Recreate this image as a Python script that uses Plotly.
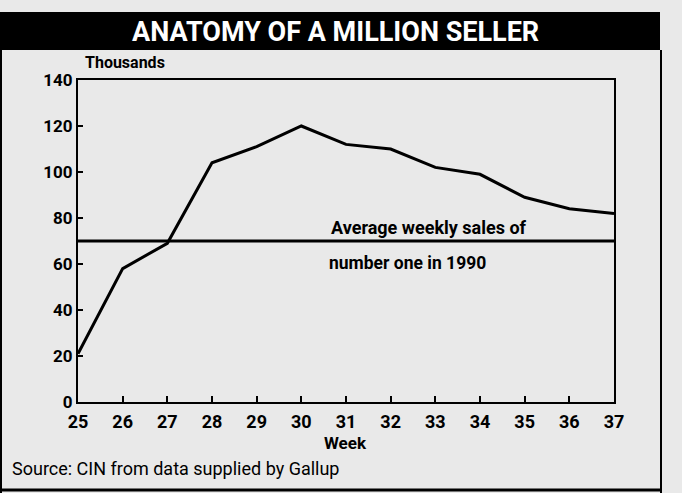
import plotly.graph_objects as go

weeks = [25, 26, 27, 28, 29, 30, 31, 32, 33, 34, 35, 36, 37]
sales_thousands = [21, 58, 69, 104, 111, 120, 112, 110, 102, 99, 89, 84, 82]
avg_weekly_sales_1990 = 70
y_ticks = [0, 20, 40, 60, 80, 100, 120, 140]

FONT = "Roboto, Liberation Sans, sans-serif"
BG = "#e9e9e9"
L, T, W, H = 78, 80, 536, 322  # plot area in px


def px(x):
    return (x - L) / W


def py(y):
    return (T + H - y) / H


fig = go.Figure()
fig.add_trace(go.Scatter(x=weeks, y=sales_thousands, mode="lines",
                         line=dict(color="black", width=3), showlegend=False,
                         hoverinfo="x+y"))
fig.add_shape(type="line", xref="paper", yref="y", x0=0, x1=1,
              y0=avg_weekly_sales_1990, y1=avg_weekly_sales_1990,
              line=dict(color="black", width=3))

fig.update_layout(
    width=682, height=493,
    margin=dict(l=L, r=682 - L - W, t=T, b=493 - T - H),
    paper_bgcolor=BG, plot_bgcolor=BG,
    font=dict(family=FONT, color="black"),
    xaxis=dict(range=[25, 37], tickmode="array", tickvals=weeks,
               ticktext=[str(w) for w in weeks], ticks="inside", ticklen=6,
               tickwidth=1.5, tickcolor="black", showline=True, linecolor="black",
               linewidth=2, mirror=True, showgrid=False, zeroline=False,
               ticklabelstandoff=2,
               tickfont=dict(size=18, family=FONT, weight="bold")),
    yaxis=dict(range=[0, 140], tickmode="array", tickvals=y_ticks,
               ticks="inside", ticklen=5, tickwidth=1.5, tickcolor="black",
               showline=True, linecolor="black", linewidth=2, mirror=True,
               showgrid=False, zeroline=False,
               tickfont=dict(size=17, family=FONT, weight="bold")),
)

# Title bar
fig.add_shape(type="rect", xref="paper", yref="paper", x0=px(0), x1=px(660),
              y0=py(50), y1=py(12), fillcolor="black",
              line=dict(width=0), layer="below")
fig.add_annotation(text="ANATOMY OF A MILLION SELLER", xref="paper", yref="paper",
                   x=px(335), y=py(32), showarrow=False,
                   font=dict(size=27, color="white", family=FONT, weight="bold"),
                   xanchor="center", yanchor="middle")
# Outer frame lines
fig.add_shape(type="line", xref="paper", yref="paper", x0=px(661), x1=px(661),
              y0=py(493), y1=py(50), line=dict(color="black", width=2))
fig.add_shape(type="line", xref="paper", yref="paper", x0=px(0), x1=px(661),
              y0=py(490), y1=py(490), line=dict(color="black", width=3))
fig.add_shape(type="line", xref="paper", yref="paper", x0=px(1), x1=px(1),
              y0=py(493), y1=py(50), line=dict(color="black", width=2))

fig.add_annotation(text="Thousands", xref="paper", yref="paper",
                   x=px(83), y=py(63), showarrow=False,
                   xanchor="left", yanchor="middle",
                   font=dict(size=16, family=FONT, weight="bold"))
fig.add_annotation(text="Week", xref="paper", yref="paper",
                   x=px(345), y=py(443), showarrow=False,
                   xanchor="center", yanchor="middle",
                   font=dict(size=17, family=FONT, weight="bold"))
fig.add_annotation(text="Source: CIN from data supplied by Gallup", xref="paper",
                   yref="paper", x=px(10), y=py(468), showarrow=False,
                   xanchor="left", yanchor="middle",
                   font=dict(size=18, family=FONT))
fig.add_annotation(text="Average weekly sales of", xref="paper", yref="paper",
                   x=px(329), y=py(227), showarrow=False,
                   xanchor="left", yanchor="middle",
                   font=dict(size=18, family=FONT, weight="bold"))
fig.add_annotation(text="number one in 1990", xref="paper", yref="paper",
                   x=px(327), y=py(263), showarrow=False,
                   xanchor="left", yanchor="middle",
                   font=dict(size=17.5, family=FONT, weight="bold"))

fig.write_html("out.html", config={"displayModeBar": False},
               post_script="document.body.style.margin='0';")
